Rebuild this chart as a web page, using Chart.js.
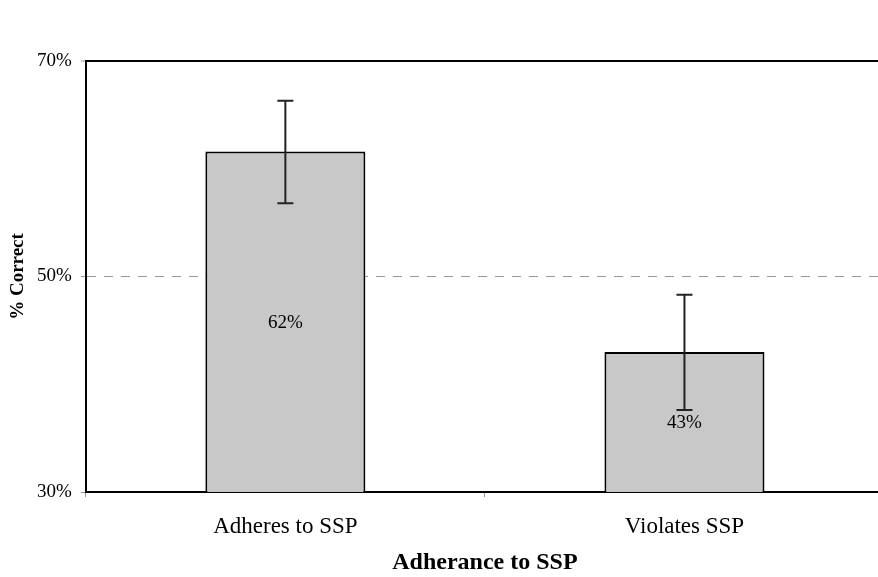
<!DOCTYPE html>
<html>
<head>
<meta charset="utf-8">
<script src="https://cdn.jsdelivr.net/npm/chart.js@4/dist/chart.umd.min.js"></script>
<style>
  html, body { margin: 0; padding: 0; background: #fff; overflow: hidden; }
  #wrap { width: 884px; height: 577px; }
</style>
</head>
<body>
<div id="wrap"><canvas id="myChart"></canvas></div>
<script>
var categories = ['Adheres to SSP', 'Violates SSP']
var percentCorrect = [61.6, 43.0]
var errorLow = [56.8, 37.6]
var errorHigh = [66.3, 48.3]
var yTicks = [30, 50, 70]

var serif = '"Liberation Serif", "Times New Roman", serif'

// error bars + value labels, drawn from the scales
var extras = {
  id: 'extras',
  afterDatasetsDraw: function (chart) {
    var ctx = chart.ctx
    var y = chart.scales.y
    var meta = chart.getDatasetMeta(0)
    var base = y.getPixelForValue(y.min)
    ctx.save()
    meta.data.forEach(function (bar, i) {
      var x = bar.x
      var top = y.getPixelForValue(errorHigh[i])
      var bot = y.getPixelForValue(errorLow[i])
      ctx.strokeStyle = '#222'
      ctx.lineWidth = 2
      ctx.beginPath()
      ctx.moveTo(x, top); ctx.lineTo(x, bot)
      ctx.moveTo(x - 8, top); ctx.lineTo(x + 8, top)
      ctx.moveTo(x - 8, bot); ctx.lineTo(x + 8, bot)
      ctx.stroke()
      var mid = (y.getPixelForValue(percentCorrect[i]) + base) / 2
      ctx.fillStyle = '#000'
      ctx.font = '19px ' + serif
      ctx.textAlign = 'center'
      ctx.textBaseline = 'middle'
      ctx.fillText(Math.round(percentCorrect[i]) + '%', x, mid + 1)
    })
    ctx.restore()
  }
}

var ctx = document.getElementById('myChart')
var myChart = new Chart(ctx, {
  type: 'bar',
  data: {
    labels: categories,
    datasets: [
      {
        data: percentCorrect,
        backgroundColor: '#c8c8c8',
        borderColor: '#000',
        borderWidth: 2,
        borderSkipped: false,
        categoryPercentage: 1,
        barPercentage: 0.401
      }
    ]
  },
  options: {
    responsive: true,
    maintainAspectRatio: false,
    animation: false,
    layout: { padding: { top: 61, right: 0, left: 9, bottom: 2 } },
    plugins: {
      legend: { display: false },
      tooltip: { enabled: false }
    },
    scales: {
      y: {
        min: 30,
        max: 70,
        afterBuildTicks: function (scale) {
          scale.ticks = yTicks.map(function (v) { return { value: v } })
        },
        ticks: {
          color: '#000',
          padding: 9,
          font: { family: serif, size: 19 },
          callback: function (v) { return v + '%' }
        },
        grid: {
          color: function (c) {
            if (c.tick && c.tick.value === 50) return '#999'
            if (c.tick && c.tick.value === 70) return '#000'
            return 'rgba(0,0,0,0)'
          },
          lineWidth: function (c) {
            return c.tick && c.tick.value === 70 ? 2 : 1
          },
          tickColor: '#999',
          tickLength: 5,
          tickWidth: 1
        },
        border: {
          color: '#000',
          width: 2,
          dash: function (c) {
            return c.tick && c.tick.value === 50 ? [9, 8] : []
          }
        },
        title: {
          display: true,
          text: '% Correct',
          color: '#000',
          font: { family: serif, size: 19, weight: 'bold', lineHeight: 1 },
          padding: 0
        }
      },
      x: {
        offset: true,
        ticks: {
          color: '#000',
          padding: 18,
          font: { family: serif, size: 23, lineHeight: 1 }
        },
        grid: {
          offset: true,
          drawOnChartArea: false,
          tickColor: '#999',
          tickLength: 5
        },
        border: { color: '#000', width: 2 },
        title: {
          display: true,
          text: 'Adherance to SSP',
          color: '#000',
          font: { family: serif, size: 24, weight: 'bold', lineHeight: 1 },
          padding: { top: -5, bottom: 0 }
        }
      }
    }
  },
  plugins: [extras]
})
</script>
</body>
</html>
